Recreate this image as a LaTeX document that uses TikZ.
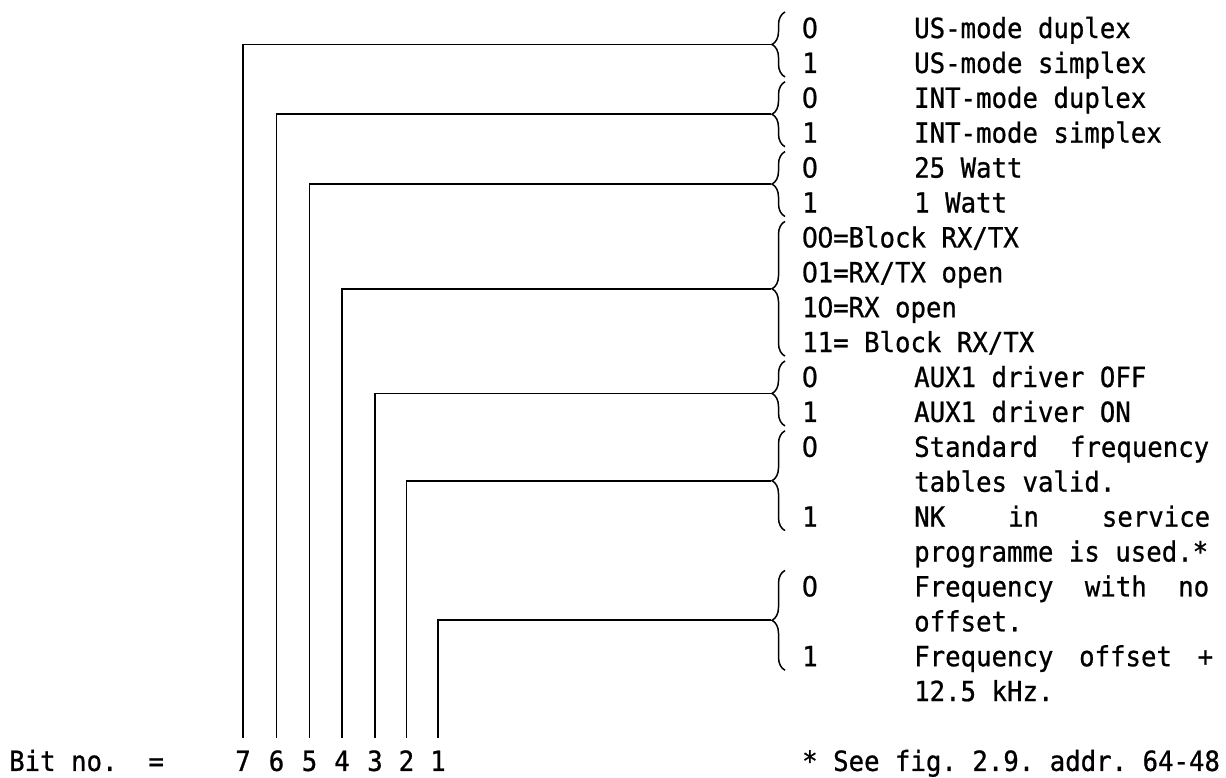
\documentclass[tikz,border=0pt]{standalone}
\usepackage{fontspec}
\setmainfont[FakeBold=0.8]{DejaVu Sans Mono}
\newfontfamily\zerofont[FakeBold=0.8]{DejaVu Sans}
\usetikzlibrary{decorations.pathreplacing}
\newcommand\tallt[1]{\scalebox{1}[1.08]{#1}}
\newcommand\zr{\makebox[0.602em]{\zerofont 0}}
\begin{document}
\begin{tikzpicture}[x=1pt,y=-1pt,
  txt/.style={anchor=base west,inner sep=0pt,font=\fontsize{25.7}{30}\selectfont\frenchspacing},
  dig/.style={anchor=base,inner sep=0pt,font=\fontsize{25.7}{30}\selectfont},
  conn/.style={line width=1.9pt,shorten >=12pt},
  brc/.style={line width=1.5pt,decorate,decoration={brace,amplitude=13pt}}]
\useasboundingbox (0,0) rectangle (1226,777);
% right column texts
\node[txt] (v0) at (802,38.0) {\tallt{\zr}};    \node[txt] (e0) at (914,38.0) {\tallt{US-mode duplex}};
\node[txt] (v1) at (802,72.9) {\tallt{1}};    \node[txt] (e1) at (914,72.9) {\tallt{US-mode simplex}};
\node[txt] (v2) at (802,107.8) {\tallt{\zr}};   \node[txt] (e2) at (914,107.8) {\tallt{INT-mode duplex}};
\node[txt] (v3) at (802,142.7) {\tallt{1}};   \node[txt] (e3) at (914,142.7) {\tallt{INT-mode simplex}};
\node[txt] (v4) at (802,177.6) {\tallt{\zr}};   \node[txt] (e4) at (914,177.6) {\tallt{25 Watt}};
\node[txt] (v5) at (802,212.5) {\tallt{1}};   \node[txt] (e5) at (914,212.5) {\tallt{1 Watt}};
\node[txt] (v6) at (802,247.4) {\tallt{\zr\zr=Block RX/TX}};
\node[txt] (v7) at (802,282.3) {\tallt{\zr1=RX/TX open}};
\node[txt] (v8) at (802,317.2) {\tallt{1\zr=RX open}};
\node[txt] (v9) at (802,352.1) {\tallt{11=\ Block RX/TX}};
\node[txt] (v10) at (802,387.0) {\tallt{\zr}};  \node[txt] (e10) at (914,387.0) {\tallt{AUX1 driver OFF}};
\node[txt] (v11) at (802,421.9) {\tallt{1}};  \node[txt] (e11) at (914,421.9) {\tallt{AUX1 driver ON}};
\node[txt] (v12) at (802,456.8) {\tallt{\zr}};  \node[txt] (e12) at (914,456.8) {\tallt{\makebox[295pt][l]{Standard\hfill frequency}}};
\node[txt] (e13) at (914,491.7) {\tallt{tables valid.}};
\node[txt] (v14) at (802,526.6) {\tallt{1}};  \node[txt] (e14) at (914,526.6) {\tallt{\makebox[296pt][l]{NK\hfill in\hfill service}}};
\node[txt] (e15) at (914,561.5) {\tallt{programme is used.*}};
\node[txt] (v16) at (802,596.4) {\tallt{\zr}};  \node[txt] (e16) at (914,596.4) {\tallt{\makebox[295pt][l]{Frequency\hfill with\hfill no}}};
\node[txt] (e17) at (914,631.3) {\tallt{offset.}};
\node[txt] (v18) at (802,666.2) {\tallt{1}};  \node[txt] (e18) at (914,666.2) {\tallt{\makebox[299pt][l]{Frequency\hfill offset\hfill +}}};
\node[txt] (e19) at (914,701.1) {\tallt{12.5 kHz.}};
% bottom line
\node[txt] (bitno) at (9,770.9) {\tallt{Bit no.\ \ =}};
\node[txt] (foot) at (802,770.9) {\tallt{* See fig. 2.9. addr. 64-48}};
\node[dig] (d7) at (243,770.9) {\tallt{7}};
\node[dig] (d6) at (276.5,770.9) {\tallt{6}};
\node[dig] (d5) at (309.5,770.9) {\tallt{5}};
\node[dig] (d4) at (342,770.9) {\tallt{4}};
\node[dig] (d3) at (375,770.9) {\tallt{3}};
\node[dig] (d2) at (406.5,770.9) {\tallt{2}};
\node[dig] (d1) at (438,770.9) {\tallt{1}};
% braces
\draw[brc] (785,76.9) -- (785,12.0);
\draw[brc] (785,146.7) -- (785,81.8);
\draw[brc] (785,216.5) -- (785,151.6);
\draw[brc] (785,356.1) -- (785,221.4);
\draw[brc] (785,425.9) -- (785,361.0);
\draw[brc] (785,530.6) -- (785,430.8);
\draw[brc] (785,670.2) -- (785,570.4);
% brace tips
\coordinate (t7) at (771,44.45);
\coordinate (t6) at (771,114.25);
\coordinate (t5) at (771,184.05);
\coordinate (t4) at (771,288.75);
\coordinate (t3) at (771,393.45);
\coordinate (t2) at (771,480.7);
\coordinate (t1) at (771,620.3);
% connectors
\draw[conn] (t7) -| (d7.north);
\draw[conn] (t6) -| (d6.north);
\draw[conn] (t5) -| (d5.north);
\draw[conn] (t4) -| (d4.north);
\draw[conn] (t3) -| (d3.north);
\draw[conn] (t2) -| (d2.north);
\draw[conn] (t1) -| (d1.north);
\end{tikzpicture}
\end{document}
